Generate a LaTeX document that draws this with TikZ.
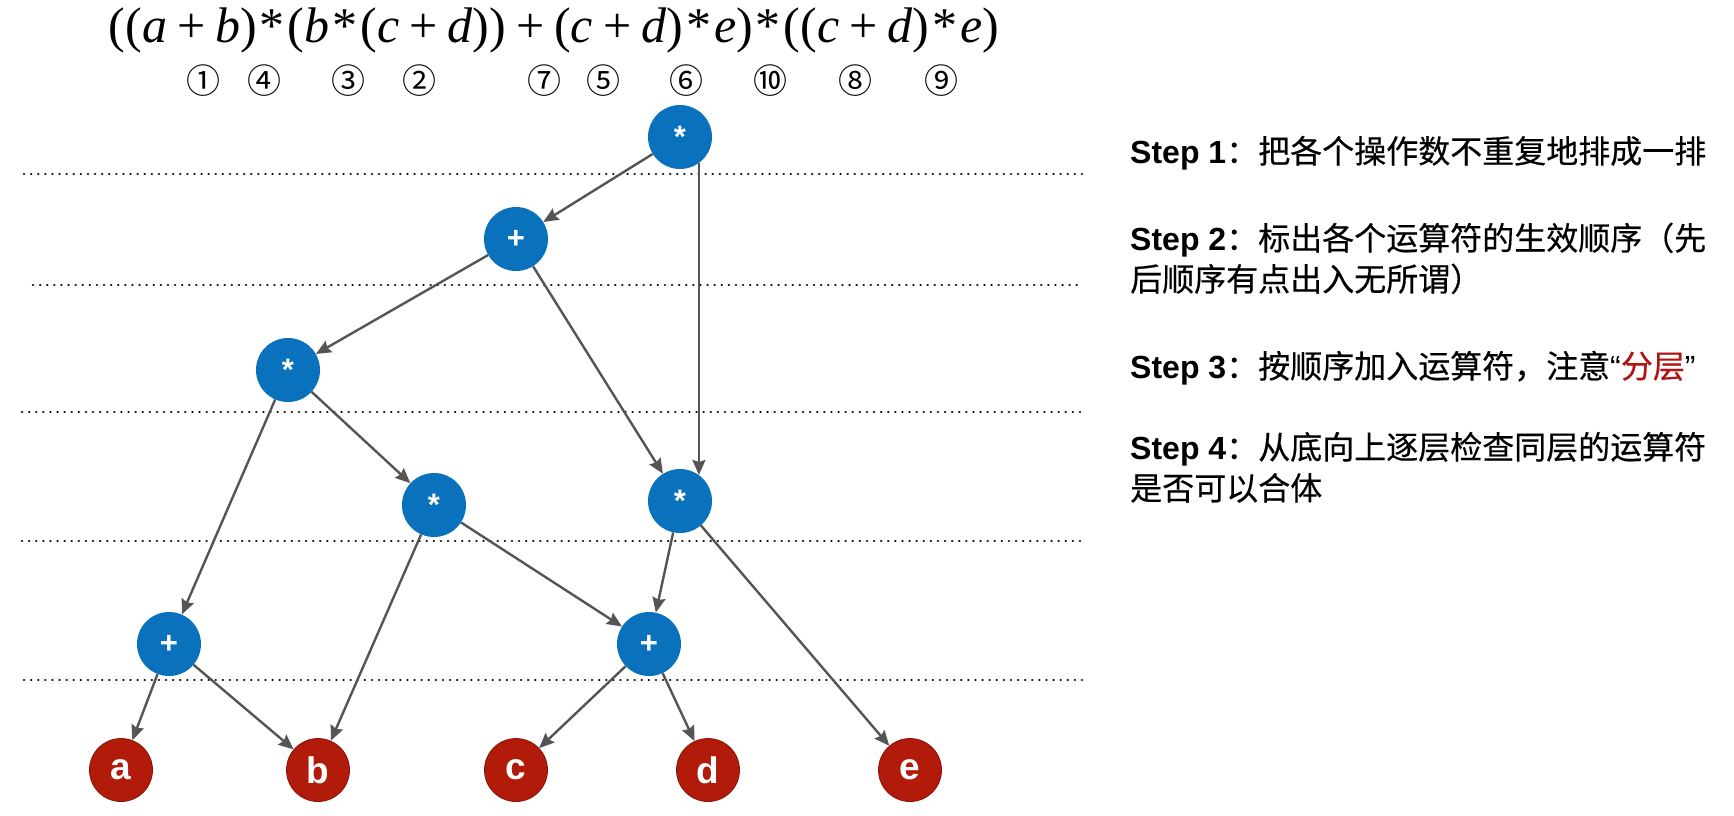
\documentclass[tikz,border=0pt]{standalone}
\usepackage{fontspec}
\setmainfont{Liberation Sans}
\newfontfamily\cjk[FakeBold=0.4]{Noto Sans CJK SC}
\newfontfamily\circfont{Noto Sans CJK SC}
\newfontfamily\exprfont{Liberation Serif}
\usepackage{xcolor}
\usepackage{tikz}
\usetikzlibrary{arrows.meta}

\definecolor{opblue}{RGB}{10,114,188}
\definecolor{leafred}{RGB}{178,26,10}
\definecolor{edgegray}{RGB}{85,85,85}
\definecolor{hired}{RGB}{178,20,20}

\newcommand{\pl}{\hspace{0.2em}+\hspace{0.2em}}
\newcommand{\tm}{\hspace{0.06em}*\hspace{0.06em}}

\begin{document}
\begin{tikzpicture}[x=1pt, y=-1pt,
    op/.style={circle, fill=opblue, minimum size=64pt, inner sep=0pt, text=white, font=\fontsize{31}{31}\selectfont\bfseries},
    leaf/.style={circle, fill=leafred, draw=leafred!75!black, line width=0.8pt, minimum size=63pt, inner sep=0pt, text=white, font=\fontsize{37}{37}\selectfont\bfseries},
    arr/.style={-{Stealth[length=15pt,width=13pt,inset=2pt]}, draw=edgegray, fill=edgegray, line width=2.4pt},
    layer/.style={line width=2.6pt, dash pattern=on 0.1pt off 7pt, line cap=round},
    steptext/.style={anchor=base west, align=left, inner sep=0pt, font=\fontsize{32}{41}\selectfont}
  ]
    \useasboundingbox (0,0) rectangle (1734,815);

    % expression and order
    \node(expr) at (554,30) [font=\fontsize{50}{50}\selectfont\exprfont] {((\textit{a}\pl\textit{b})\tm(\textit{b}\tm(\textit{c}\pl\textit{d}))\pl(\textit{c}\pl\textit{d})\tm\textit{e})\tm((\textit{c}\pl\textit{d})\tm\textit{e})};
    \foreach \x/\n [count=\i] in {203/①, 264/④, 348/③, 419/②, 544/⑦, 603/⑤, 686/⑥, 770/⑩, 855/⑧, 941/⑨}
      \node(num\i) at (\x,81) [font=\fontsize{34}{34}\selectfont\circfont] {\n};

    % layers
    \foreach \y/\x in {174/24, 285/33, 412/22, 541/22, 680/24}
      \draw[layer] (\x,\y) -- (1083,\y);

    % operands
    \node(a) at (121,770) [leaf] {a};
    \node(b) at (318,770) [leaf] {b};
    \node(c) at (516,770) [leaf] {c};
    \node(d) at (708,770) [leaf] {d};
    \node(e) at (910,770) [leaf] {e};

    % operators
    \node(P2) at (169,644) [op] {+}
      edge [arr] (a)
      edge [arr] (b)
      ;
    \node(P3) at (649,644) [op] {+}
      edge [arr] (c)
      edge [arr] (d)
      ;
    \node(M2) at (434,505) [op] {*}
      edge [arr] (b)
      edge [arr] (P3)
      ;
    \node(M3) at (680,501) [op] {*}
      edge [arr] (P3)
      edge [arr] (e)
      ;
    \node(M1) at (288,370) [op] {*}
      edge [arr] (P2)
      edge [arr] (M2)
      ;
    \node(P1) at (516,239) [op] {+}
      edge [arr] (M1)
      edge [arr] (M3)
      ;
    \node(T) at (680,137) [op] {*}
      edge [arr] (P1)
      ;
    \draw [arr] (T.-54) -- (M3.54);

    % steps
    \node(s1) at (1130,163) [steptext] {\textbf{Step 1}{\cjk：把各个操作数不重复地排成一排}};
    \node(s2) at (1130,291) [steptext] {\textbf{Step 2}{\cjk：标出各个运算符的生效顺序（先}\\{\cjk 后顺序有点出入无所谓）}};
    \node(s3) at (1130,378) [steptext] {\textbf{Step 3}{\cjk：按顺序加入运算符，注意}“{\cjk\color{hired}分层}”};
    \node(s4) at (1130,500) [steptext] {\textbf{Step 4}{\cjk：从底向上逐层检查同层的运算符}\\{\cjk 是否可以合体}};
  \end{tikzpicture}
\end{document}
